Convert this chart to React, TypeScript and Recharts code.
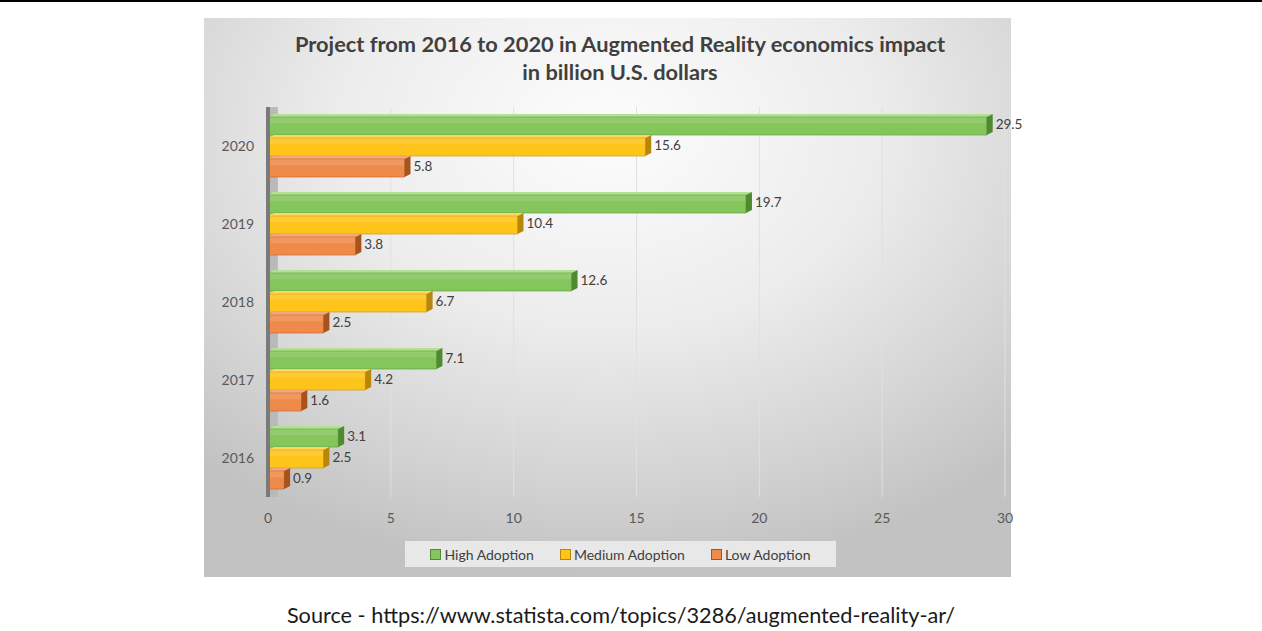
import React from 'react';
import { BarChart, Bar, XAxis, YAxis, CartesianGrid, Legend, LabelList, ReferenceArea } from 'recharts';

const years = ['2020', '2019', '2018', '2017', '2016'];
const highAdoption = [29.5, 19.7, 12.6, 7.1, 3.1];
const mediumAdoption = [15.6, 10.4, 6.7, 4.2, 2.5];
const lowAdoption = [5.8, 3.8, 2.5, 1.6, 0.9];
const xTicks = [0, 5, 10, 15, 20, 25, 30];

const series = [
  { key: 'high', name: 'High Adoption', front: '#84c55c', top: '#b3e191', side: '#4f8a2e', edge: '#5a9a36' },
  { key: 'medium', name: 'Medium Adoption', front: '#ffc41a', top: '#ffd75c', side: '#b8860b', edge: '#c99700' },
  { key: 'low', name: 'Low Adoption', front: '#ee8a4a', top: '#f5a877', side: '#a9531c', edge: '#c0622a' },
];

const data = years.map((year, i) => ({
  year,
  high: highAdoption[i],
  medium: mediumAdoption[i],
  low: lowAdoption[i],
}));

const FONT = 'Lato, "Open Sans", sans-serif';

// 3D-looking bar: front face, thin top face and darker right side
const make3DBar = (s: typeof series[number]) => (props: any) => {
  const { x, y, width, height } = props;
  if (width <= 0) return <g />;
  const d = 6;
  const up = 3;
  const fx = x;
  const fy = y + up;
  const fw = Math.max(width - d, 1);
  const fh = height - up;
  return (
    <g>
      <polygon
        points={`${fx},${fy} ${fx + d},${fy - up} ${fx + fw + d},${fy - up} ${fx + fw},${fy}`}
        fill={s.top}
      />
      <rect x={fx} y={fy} width={fw} height={fh} fill={s.front} stroke={s.edge} strokeWidth={0.6} />
      <rect x={fx} y={fy} width={fw} height={fh * 0.35} fill="#ffffff" opacity={0.12} />
      <polygon
        points={`${fx + fw},${fy} ${fx + fw + d},${fy - up} ${fx + fw + d},${fy + fh - up} ${fx + fw},${fy + fh}`}
        fill={s.side}
      />
    </g>
  );
};

const LegendBox = () => (
  <div
    style={{
      width: 431,
      height: 26,
      background: '#e8e8e8',
      display: 'flex',
      alignItems: 'center',
      justifyContent: 'center',
      gap: 26,
      fontFamily: FONT,
      fontSize: 14,
      color: '#404040',
    }}
  >
    {series.map((s) => (
      <div key={s.key} style={{ display: 'flex', alignItems: 'center' }}>
        <span
          style={{
            display: 'inline-block',
            width: 9,
            height: 9,
            background: s.front,
            border: `1px solid ${s.side}`,
            marginRight: 3,
          }}
        />
        {s.name}
      </div>
    ))}
  </div>
);

export default function App() {
  return (
    <div style={{ position: 'absolute', left: 0, top: 0, width: 1262, height: 631, background: '#ffffff', overflow: 'hidden' }}>
      <div style={{ position: 'absolute', left: 0, top: 0, width: 1262, height: 2, background: '#000' }} />
      <div
        style={{
          position: 'absolute',
          left: 204,
          top: 18,
          width: 807,
          height: 559,
          background: 'radial-gradient(ellipse 75% 80% at 50% 20%, #fdfdfd 0%, #ececec 45%, #d2d2d2 80%, #c2c2c2 100%)',
        }}
      >
        <div
          style={{
            position: 'absolute',
            left: 0,
            top: 12,
            width: 832,
            textAlign: 'center',
            fontFamily: FONT,
            fontWeight: 700,
            fontSize: 21.8,
            lineHeight: '28px',
            color: '#404040',
          }}
        >
          Project from 2016 to 2020 in Augmented Reality economics impact
          <br />
          in billion U.S. dollars
        </div>
        <BarChart
          width={840}
          height={559}
          data={data}
          layout="vertical"
          margin={{ top: 89, right: 39, bottom: 24, left: 0 }}
          barCategoryGap="9%"
          barGap={0}
        >
          <CartesianGrid horizontal={false} stroke="#e0e0e0" strokeWidth={1} />
          <ReferenceArea x1={0} x2={0.4} fill="#b9b9b9" fillOpacity={1} stroke="none" />
          <XAxis
            type="number"
            domain={[0, 30]}
            ticks={xTicks}
            axisLine={false}
            tickLine={false}
            tickMargin={10}
            tick={{ fontSize: 14, fill: '#595959', fontFamily: FONT }}
            height={30}
          />
          <YAxis
            type="category"
            dataKey="year"
            width={64}
            axisLine={{ stroke: '#7a7a7a', strokeWidth: 4 }}
            tickLine={false}
            tickMargin={8}
            tick={{ fontSize: 14, fill: '#595959', fontFamily: FONT }}
          />
          <Legend
            verticalAlign="bottom"
            content={() => <LegendBox />}
            wrapperStyle={{ position: 'absolute', left: 201, top: 523, width: 431, height: 26 }}
          />
          {series.map((s) => (
            <Bar key={s.key} dataKey={s.key} name={s.name} fill={s.front} shape={make3DBar(s)} isAnimationActive={false}>
              <LabelList
                dataKey={s.key}
                position="right"
                offset={3}
                style={{ fontSize: 13.5, fill: '#404040', fontFamily: FONT }}
              />
            </Bar>
          ))}
        </BarChart>
      </div>
      <div
        style={{
          position: 'absolute',
          left: 0,
          top: 602,
          width: 1242,
          textAlign: 'center',
          fontFamily: FONT,
          fontSize: 21.7,
          color: '#1a1a1a',
        }}
      >
        Source - https://www.statista.com/topics/3286/augmented-reality-ar/
      </div>
    </div>
  );
}
